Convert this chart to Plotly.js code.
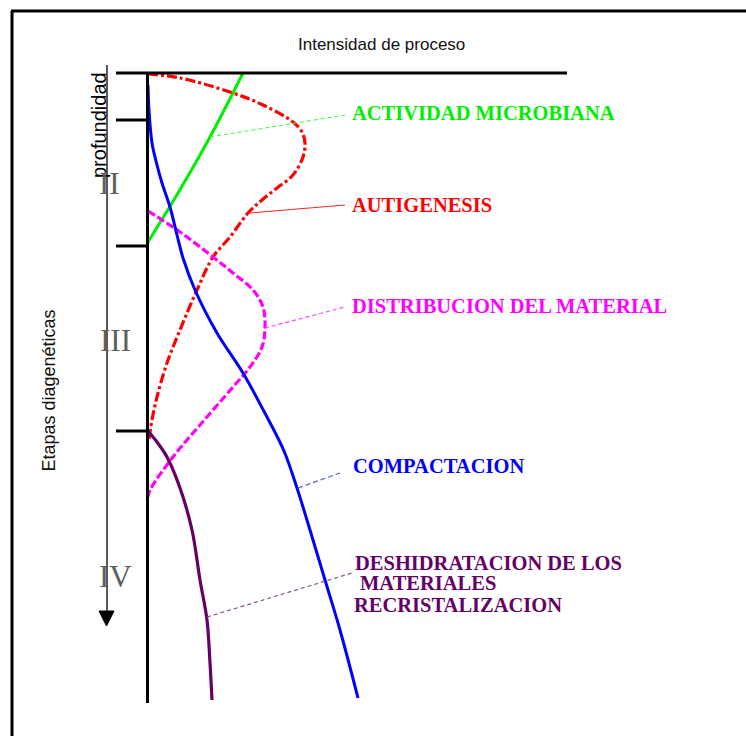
<!DOCTYPE html>
<html>
<head>
<meta charset="utf-8">
<script src="https://cdn.plot.ly/plotly-3.0.1.min.js"></script>
<style>
html,body{margin:0;padding:0;background:#fff;}
#chart{width:746px;height:736px;}
</style>
</head>
<body>
<div id="chart"></div>
<script>
// ---- Data (intensity, depth) ----
const titleText = "Intensidad de proceso";
const depthLabel = "profundidad";
const stageAxisLabel = "Etapas diagenéticas";
const stageNames = ["II", "III", "IV"];
const stageBoundaries = [47, 173, 358];

const microbX = [0, 30, 62, 95];
const microbDepth = [169, 120, 64, 0];

const autigX = [0, 32, 82, 115, 145, 154, 157, 155, 145, 129, 114, 100, 82, 65, 49, 32, 19, 9, 4, 2, 1];
const autigDepth = [1, 5, 19, 32, 49, 59, 70, 84, 102, 115, 127, 140, 164, 184, 217, 257, 290, 324, 347, 359, 367];

const distribX = [0, 32, 65, 85, 105, 115, 117, 114, 102, 85, 52, 25, 2, 0];
const distribDepth = [138, 159, 184, 200, 217, 234, 255, 274, 294, 314, 352, 384, 417, 424];

const compactX = [0, 1, 4, 9, 14, 22, 29, 35, 47, 69, 95, 119, 136, 149, 162, 177, 192, 210];
const compactDepth = [12, 37, 70, 92, 110, 134, 162, 185, 217, 260, 300, 344, 378, 415, 457, 507, 557, 625];

const deshidX = [0, 9, 19, 32, 44, 52, 59, 62, 64];
const deshidDepth = [358, 369, 384, 415, 457, 507, 547, 590, 627];

const labelMicrob = "ACTIVIDAD MICROBIANA";
const labelAutig = "AUTIGENESIS";
const labelDistrib = "DISTRIBUCION DEL MATERIAL";
const labelCompact = "COMPACTACION";
const labelDeshid = ["DESHIDRATACION DE LOS", "MATERIALES", "RECRISTALIZACION"];

// ---- Traces ----
function curve(x, y, color, width, dash) {
  return {x: x, y: y, type: "scatter", mode: "lines", hoverinfo: "skip",
    line: {color: color, width: width, dash: dash || "solid", shape: "spline", smoothing: 1.0}};
}
const traces = [
  curve(microbX, microbDepth, "#00ee00", 3),
  curve(autigX, autigDepth, "#ff0000", 3.2, "10px,3px,3px,3px"),
  curve(distribX, distribDepth, "#ff00ff", 3.2, "8px,3px"),
  curve(compactX, compactDepth, "#0000ff", 3),
  curve(deshidX, deshidDepth, "#660066", 3.2)
];

// ---- Shapes (axes, frame, leaders) ----
const shapes = [];
function seg(x0, y0, x1, y1, color, width, dash) {
  shapes.push({type: "line", xref: "x", yref: "y", x0: x0, y0: y0, x1: x1, y1: y1,
    line: {color: color, width: width, dash: dash || "solid"}, layer: "above"});
}
// outer frame
seg(-136, -62, -136, 700, "#000", 3);
seg(-137, -62, 620, -62, "#000", 3);
// axes
seg(-32, 0, 419, 0, "#000", 3);
seg(-0.5, 0, -0.5, 630, "#000", 3);
stageBoundaries.forEach(d => seg(-32, d, -0.5, d, "#000", 3));
// depth arrow
seg(-41, -8, -41, 540, "#000", 1.3);
shapes.push({type: "path", xref: "x", yref: "y", path: "M -49 538 L -34 538 L -41.5 553 Z",
  fillcolor: "#000", line: {color: "#000", width: 1}});
// leader lines
seg(62, 64, 197, 42, "#33ff33", 1, "4px,3px");
seg(102, 140, 197, 132, "#ff2222", 1);
seg(117, 255, 197, 234, "#ff44ff", 1.2, "4px,3px");
seg(150, 415, 192, 400, "#5555ff", 1.2, "5px,3px");
seg(59, 544, 204, 500, "#885588", 1.2, "4px,3px");

// ---- Annotations ----
const serifBold = {family: "Liberation Serif, serif", size: 20.5};
function lab(text, x, y, color) {
  return {text: "<b>" + text + "</b>", x: x, y: y, xref: "x", yref: "y", xanchor: "left", yanchor: "middle",
    showarrow: false, font: Object.assign({}, serifBold, {color: color})};
}
const romanFont = {family: "Liberation Serif, serif", size: 31, color: "#5e5e5e"};
const annotations = [
  {text: titleText, x: 233, y: -29, xref: "x", yref: "y", showarrow: false,
    font: {family: "Liberation Sans, Arial, sans-serif", size: 17, color: "#111"}},
  {text: depthLabel, x: -49, y: 52, xref: "x", yref: "y", showarrow: false, textangle: -90,
    font: {family: "Liberation Sans, Arial, sans-serif", size: 20, color: "#000"}},
  {text: stageAxisLabel, x: -99.5, y: 318, xref: "x", yref: "y", showarrow: false, textangle: -90,
    font: {family: "Liberation Sans, Arial, sans-serif", size: 18, color: "#111"}},
  {text: stageNames[0], x: -39, y: 110, xref: "x", yref: "y", showarrow: false, font: romanFont},
  {text: stageNames[1], x: -33, y: 267, xref: "x", yref: "y", showarrow: false, font: romanFont},
  {text: stageNames[2], x: -33, y: 503, xref: "x", yref: "y", showarrow: false, font: romanFont},
  lab(labelMicrob, 202, 40, "#00ee00"),
  lab(labelAutig, 202, 132, "#ff0000"),
  lab(labelDistrib, 202, 233, "#ff00ff"),
  lab(labelCompact, 203, 393, "#0000ff"),
  lab(labelDeshid[0], 205, 490, "#660066"),
  lab(labelDeshid[1], 210, 510, "#660066"),
  lab(labelDeshid[2], 204, 532, "#660066")
];

const layout = {
  width: 746, height: 736,
  margin: {l: 0, r: 0, t: 0, b: 0, pad: 0},
  paper_bgcolor: "#fff", plot_bgcolor: "#fff",
  showlegend: false,
  xaxis: {range: [-148, 598], visible: false, fixedrange: true},
  yaxis: {range: [663, -73], visible: false, fixedrange: true},
  shapes: shapes,
  annotations: annotations
};

Plotly.newPlot("chart", traces, layout, {staticPlot: true, displayModeBar: false});
</script>
</body>
</html>
